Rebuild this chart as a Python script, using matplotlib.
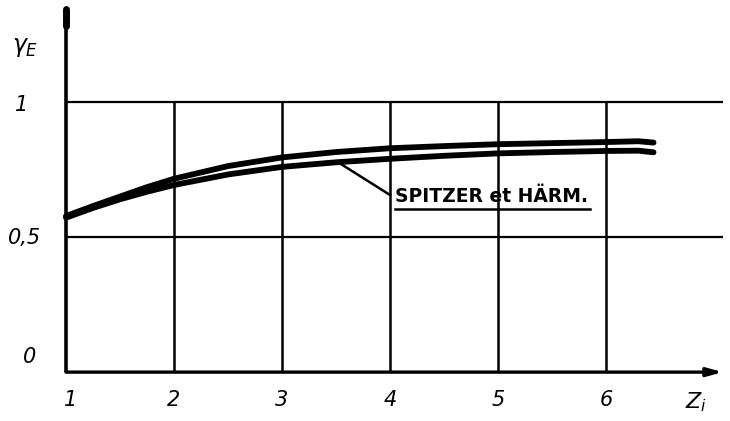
import matplotlib
matplotlib.use("Agg")
import matplotlib.pyplot as plt

# Data
z_upper = [1.0, 1.25, 1.5, 1.75, 2.0, 2.5, 3.0, 3.5, 4.0, 4.5, 5.0, 5.5, 6.0, 6.3, 6.44]
gamma_upper = [0.578, 0.615, 0.650, 0.685, 0.716, 0.763, 0.795, 0.815, 0.829,
               0.837, 0.844, 0.848, 0.852, 0.855, 0.850]
z_lower = [1.0, 1.25, 1.5, 1.75, 2.0, 2.5, 3.0, 3.5, 4.0, 4.5, 5.0, 5.5, 6.0, 6.3, 6.44]
gamma_lower = [0.572, 0.608, 0.640, 0.668, 0.693, 0.732, 0.760, 0.777, 0.790,
               0.801, 0.810, 0.815, 0.819, 0.820, 0.814]

x_ticks = [1, 2, 3, 4, 5, 6]
x_tick_labels = ["1", "2", "3", "4", "5", "6"]
y_ticks = [0, 0.5, 1]
y_tick_labels = ["0", "0,5", "1"]
annotation = "SPITZER et HÄRM."

fig = plt.figure(figsize=(7.30, 4.21), dpi=100)
ax = fig.add_axes([0, 0, 1, 1])
ax.set_xlim(0.389, 7.148)
ax.set_ylim(-0.181, 1.378)
ax.axis("off")

x_end = 7.08
# grid lines
for x in x_ticks[1:]:
    ax.plot([x, x], [0, 1], color="black", lw=1.8, solid_capstyle="butt")
for y in y_ticks[1:]:
    ax.plot([1, x_end], [y, y], color="black", lw=1.6, solid_capstyle="butt")

# axes with arrows
ax.annotate("", xy=(x_end, 0), xytext=(1, 0),
            arrowprops=dict(arrowstyle="-|>,head_length=0.9,head_width=0.25",
                            color="black", lw=2.4, shrinkA=0, shrinkB=0))
ax.plot([1, 1], [0, 1.30], color="black", lw=2.6, solid_capstyle="butt")
ax.plot([1, 1], [1.28, 1.345], color="black", lw=5, solid_capstyle="round")

# curves
ax.plot(z_upper, gamma_upper, color="black", lw=4.2, solid_capstyle="round",
        solid_joinstyle="round")
ax.plot(z_lower, gamma_lower, color="black", lw=4.2, solid_capstyle="round",
        solid_joinstyle="round")

# annotation
ax.plot([3.54, 4.0], [0.772, 0.656], color="black", lw=1.8)
ax.text(4.05, 0.650, annotation, fontsize=13.5, fontweight="bold",
        ha="left", va="center", family="DejaVu Sans")
ax.plot([4.05, 5.85], [0.604, 0.604], color="black", lw=1.8)

fs = 15
for x, lab in zip(x_ticks, x_tick_labels):
    ax.text(x + (0.04 if x == 1 else 0), -0.104, lab, fontsize=fs, style="italic",
            ha="center", va="center")
ax.text(6.83, -0.11, r"$Z_i$", fontsize=fs + 1, ha="center", va="center")

y_label_x = [0.667, 0.62, 0.593]
y_label_y = [0.056, 0.496, 0.989]
for xx, yy, lab in zip(y_label_x, y_label_y, y_tick_labels):
    ax.text(xx, yy, lab, fontsize=fs, style="italic", ha="center", va="center")
ax.text(0.62, 1.204, r"$\gamma_E$", fontsize=fs + 2, ha="center", va="center")

fig.savefig("out.png", dpi=100, facecolor="white")
